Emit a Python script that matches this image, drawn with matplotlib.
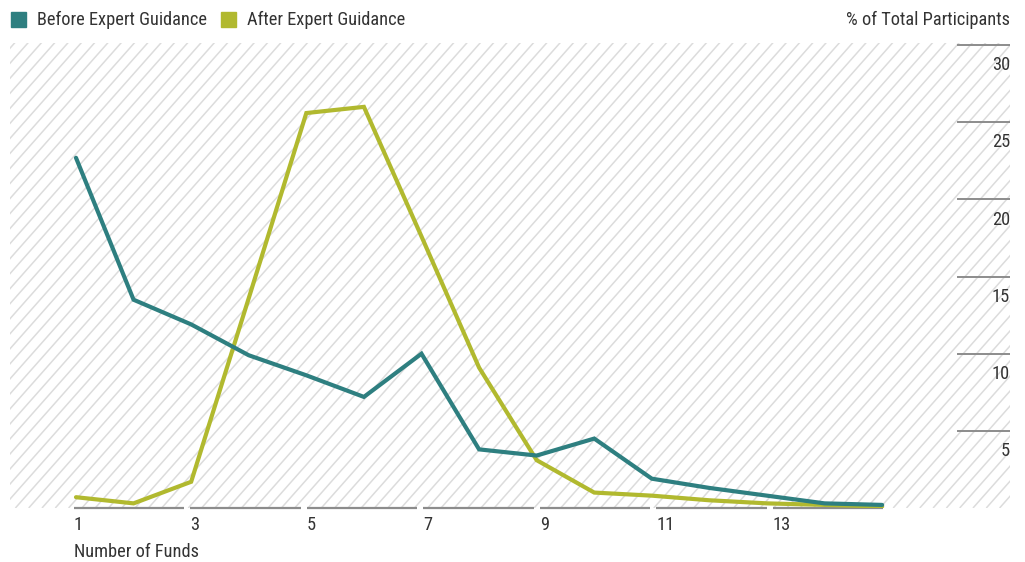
import matplotlib
matplotlib.use("Agg")
import matplotlib.pyplot as plt
import matplotlib.transforms as mtransforms
from matplotlib.collections import LineCollection
from matplotlib.patches import Rectangle
import numpy as np

plt.rcParams['font.family'] = ['Roboto Condensed', 'Roboto', 'DejaVu Sans']

# data
num_funds = [1, 2, 3, 4, 5, 6, 7, 8, 9, 10, 11, 12, 13, 14, 15]
before_guidance = [22.7, 13.5, 11.9, 9.9, 8.6, 7.2, 10.0, 3.8, 3.4, 4.5, 1.9, 1.3, 0.8, 0.3, 0.2]
after_guidance = [0.7, 0.3, 1.7, 13.6, 25.6, 26.0, 17.6, 9.1, 3.1, 1.0, 0.8, 0.5, 0.3, 0.2, 0.1]
x_ticks = [1, 3, 5, 7, 9, 11, 13]
y_ticks = [5, 10, 15, 20, 25, 30]

TEAL = '#2e7f80'
GREEN = '#b1b92f'
GRID = '#8c8c8c'
TEXT = '#333333'
FS = 13.2

W, H = 1025, 562
fig = plt.figure(figsize=(W / 100, H / 100), dpi=100)

# plot area in pixels
left_px, right_px, top_px, bottom_px = 10, 1010, 43, 508
rect = [left_px / W, (H - bottom_px) / H, (right_px - left_px) / W, (bottom_px - top_px) / H]

# hatched background
bg = fig.add_axes(rect, zorder=0)
bg.set_xlim(0, right_px - left_px)
bg.set_ylim(0, bottom_px - top_px)
bg.axis('off')
slope = 1.13
step = 13.3
segs = []
for x0 in np.arange(-500, 1000, step):
    segs.append([(x0, 0), (x0 + 600 / slope, 600)])
bg.add_collection(LineCollection(segs, colors='#dcdcdc', linewidths=1.1))

# main axes
ax = fig.add_axes(rect, zorder=2)
ax.patch.set_alpha(0)
ax.set_xlim(-0.146, 17.22)
ax.set_ylim(0, 30.14)
ax.axis('off')

ax.plot(num_funds, before_guidance, color=TEAL, lw=3.0, solid_capstyle='round',
        solid_joinstyle='miter', zorder=5)
ax.plot(num_funds, after_guidance, color=GREEN, lw=3.0, solid_capstyle='round',
        solid_joinstyle='miter', zorder=4)

# short gridlines at right with labels
trans = mtransforms.blended_transform_factory(ax.transAxes, ax.transData)
for v in y_ticks:
    ax.axhline(v, xmin=0.948, xmax=1.0, color=GRID, lw=1.4, zorder=3)
    ax.annotate(str(v), xy=(1.0, v), xycoords=trans, xytext=(0, -8),
                textcoords='offset points', ha='right', va='top',
                fontsize=FS, color=TEXT)

# x axis: segmented baseline with left-aligned labels
ax2 = fig.add_axes(rect, zorder=1)
ax2.patch.set_alpha(0)
ax2.set_xlim(-0.0987, 17.07)
ax2.set_ylim(0, 30.14)
ax2.axis('off')
gap = 0.103
for t in x_ticks:
    ax2.plot([t, t + 2 - gap], [0, 0], color=GRID, lw=1.6, solid_capstyle='butt',
             clip_on=False)
    ax2.annotate(str(t), xy=(t, 0), xytext=(0, -6), textcoords='offset points',
                 ha='left', va='top', fontsize=FS, color=TEXT)
ax2.annotate('Number of Funds', xy=(1, 0), xytext=(0, -25), textcoords='offset points',
             ha='left', va='top', fontsize=FS, color=TEXT)

# legend and axis title
fig.add_artist(Rectangle((11 / W, 1 - 27 / H), 15 / W, 15 / H, color=TEAL,
                         transform=fig.transFigure))
fig.text(37 / W, 1 - 20 / H, 'Before Expert Guidance', ha='left', va='center',
         fontsize=FS, color=TEXT)
fig.add_artist(Rectangle((221 / W, 1 - 27 / H), 15 / W, 15 / H, color=GREEN,
                         transform=fig.transFigure))
fig.text(247 / W, 1 - 20 / H, 'After Expert Guidance', ha='left', va='center',
         fontsize=FS, color=TEXT)
fig.text(1010 / W, 1 - 20 / H, '% of Total Participants', ha='right', va='center',
         fontsize=FS, color=TEXT)

fig.savefig('out.png', dpi=100)
